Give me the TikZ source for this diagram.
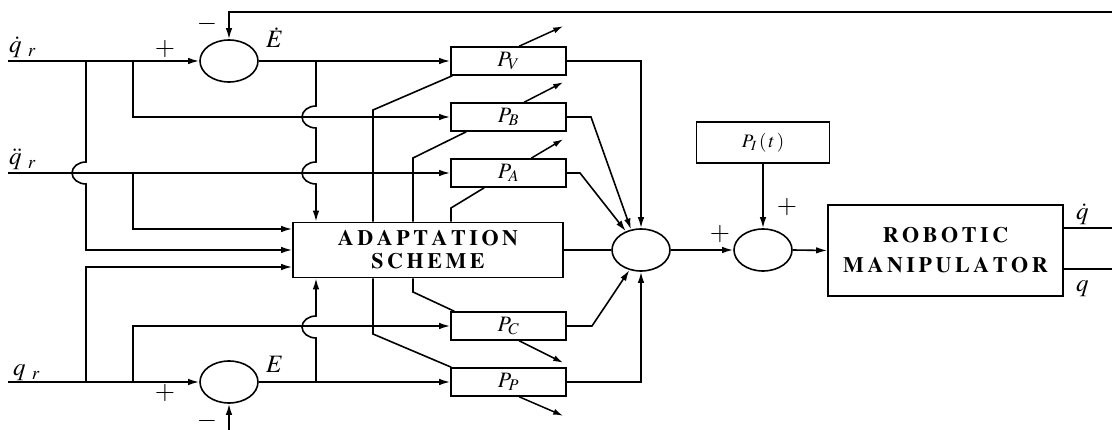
\documentclass[tikz,border=0pt]{standalone}
\usepackage{mathptmx}
\usepackage{fontspec}
\setmainfont{Liberation Serif}
\usetikzlibrary{arrows.meta,shapes.geometric,calc}

% bold Times for the two large blocks, letters spread apart by a fixed kern
\newcommand\blockfont[1]{\fontencoding{OT1}\fontfamily{ptm}\fontseries{b}\fontshape{n}%
  \fontsize{22}{#1}\selectfont}
\makeatletter
\newcommand\spreadword[1]{\@tfor\spch:=#1\do{\spch\kern3.6pt}\unkern}
\makeatother

\begin{document}
\begin{tikzpicture}[x=1pt,y=-1pt,
  wire/.style={line width=1.6pt},
  arr/.style={wire,-{Latex[length=11pt,width=6.5pt]}},
  tunearr/.style={line width=1.5pt,-{Latex[length=10pt,width=6pt]}},
  sumnode/.style={draw,line width=1.6pt,ellipse,minimum width=58pt,minimum height=42pt,inner sep=0pt},
  pbox/.style={draw,line width=1.6pt,minimum width=115pt,minimum height=28pt,inner sep=0pt,
    font=\fontsize{22}{22}\selectfont},
  bigblock/.style={draw,line width=1.6pt,inner sep=0pt,align=center},
  sign/.style={font=\fontsize{26}{26}\selectfont,inner sep=0pt},
  siglabel/.style={font=\fontsize{25}{25}\selectfont,inner sep=0pt,anchor=base west},
]
\useasboundingbox (0,0) rectangle (1112,430);

% summing junctions
\node[sumnode] (s1) at (229,61) {};
\node[sumnode] (s2) at (229,382) {};
\node[sumnode] (s3) at (641,250) {};
\node[sumnode] (s4) at (763,250) {};

% gain blocks
\node[pbox] (pv) at (508.5,61)  {$P_{V}$};
\node[pbox] (pb) at (508.5,117) {$P_{B}$};
\node[pbox] (pa) at (508.5,173) {$P_{A}$};
\node[pbox] (pc) at (508.5,326) {$P_{C}$};
\node[pbox] (pp) at (508.5,382) {$P_{P}$};

\node[draw,line width=1.3pt,minimum width=133pt,minimum height=41pt,inner sep=0pt,
  font=\fontsize{19}{19}\selectfont] (pI) at (763,142.5) {$P_I\,(\,t\,)$};

\node[bigblock,minimum width=270pt,minimum height=55pt,font=\blockfont{23}]
  (adapt) at (428,250) {\spreadword{ADAPTATION}\\\spreadword{SCHEME}};
\node[bigblock,minimum width=235pt,minimum height=91pt,font=\blockfont{30}]
  (robot) at (945.5,250.5) {\spreadword{ROBOTIC}\\\spreadword{MANIPULATOR}};

% signal entry points, branch points and rows
\coordinate (qdIn) at (8,61);
\coordinate (qddIn) at (8,173);
\coordinate (qIn) at (8,382);
\coordinate (fbTop) at (1112,12);
\coordinate (fbBot) at (229,430);
\coordinate (j1) at (86,61);
\coordinate (j2) at (133,61);
\coordinate (j3) at (133,173);
\coordinate (j4) at (86,382);
\coordinate (j5) at (133,382);
\coordinate (j6) at (316,61);
\coordinate (j7) at (316,382);
\coordinate (rA) at (0,229);
\coordinate (rB) at (0,250);
\coordinate (rC) at (0,267);
\coordinate (oU) at (1112,228);
\coordinate (oL) at (1112,269);

% reference inputs
\draw[arr] (qdIn) -- (s1.west);
\draw[arr] (fbTop) -| (s1.north);
\draw[arr] (s1.east) -- (pv.west);
\draw[arr] (j1) -- (86,162) arc[start angle=90,end angle=270,x radius=14pt,y radius=11pt]
  -- (j1 |- rB) -- (adapt.west |- rB);
\draw[arr] (j2) |- (pb.west);
\draw[arr] (qddIn) -- (pa.west);
\draw[arr] (j3) |- (adapt.west |- rA);
\draw[arr] (qIn) -- (s2.west);
\draw[arr] (j4) |- (adapt.west |- rC);
\draw[arr] (j5) |- (pc.west);
\draw[arr] (s2.east) -- (pp.west);
\draw[arr] (fbBot) -- (s2.south);

% error signals into the adaptation scheme
\draw[arr] (j6) -- (316,106) arc[start angle=90,end angle=270,x radius=14pt,y radius=11pt]
  -- (316,162) arc[start angle=90,end angle=270,x radius=14pt,y radius=11pt]
  -- (adapt.north -| j6);
\draw[arr] (j7) -- (316,338) arc[start angle=270,end angle=90,x radius=14pt,y radius=11pt]
  -- (adapt.south -| j7);

% adaptation outputs to the gain blocks
\coordinate (aV) at (373,110);
\coordinate (aB) at (413,158);
\coordinate (aA) at (451,208);
\coordinate (aC) at (413,292);
\coordinate (aP) at (373,334);
\draw[wire] (aV |- adapt.north) -- (aV) -- ($(pv.south west)+(2,0)$);
\draw[wire] (aB |- adapt.north) -- (aB) -- ($(pb.south west)+(16,0)$);
\draw[wire] (aA |- adapt.north) -- (aA) -- ($(pa.south west)+(34,0)$);
\draw[wire] (aC |- adapt.south) -- (aC) -- ($(pc.north west)+(4,0)$);
\draw[wire] (aP |- adapt.south) -- (aP) -- ($(pp.north west)+(1,0)$);

% tuning arrows
\draw[tunearr] ($(pv.north west)+(69,0)$) -- ++(44,-20);
\draw[tunearr] ($(pb.north west)+(74,0)$) -- ++(39,-20);
\draw[tunearr] ($(pa.north west)+(81,0)$) -- ++(32,-19);
\draw[tunearr] ($(pc.south west)+(69,0)$) -- ++(44,22);
\draw[tunearr] ($(pp.south west)+(69,0)$) -- ++(44,19);

% gain block outputs to the summing junction
\draw[arr] (pv.east) -| (s3.north);
\draw[arr] (pb.east) -- (591,117) -- (s3.116);
\draw[arr] (pa.east) -- (580,173) -- (s3.129);
\draw[arr] (pc.east) -- (592,326) -- (s3.240);
\draw[arr] (pp.east) -| (s3.south);
\draw[wire] (adapt.east) -- (s3.west);
\draw[arr] (s3.east) -- (s4.west);
\draw[arr] (pI.south) -- (s4.north);
\draw[arr] (s4.east) -- (robot.west);

% manipulator outputs
\draw[wire] (robot.east |- oU) -- (oU);
\draw[wire] (robot.east |- oL) -- (oL);

% signal labels
\node[siglabel] (lqd) at (9,53) {$\dot q_{\;\,r}$};
\node[siglabel] (lqdd) at (9,165) {$\ddot q_{\;\,r}$};
\node[siglabel] (lq) at (13,376) {$q_{\;\,r}$};
\node[siglabel] (lEd) at (266,48) {$\dot E$};
\node[siglabel] (lE) at (266,373) {$E$};
\node[siglabel] (lqo) at (1076,220) {$\dot q$};
\node[siglabel] (lqo2) at (1076,292) {$q$};

% signs
\node[sign] (p1) at (165,49) {$+$};
\node[sign] (m1) at (207,24) {$-$};
\node[sign] (p2) at (165,393) {$+$};
\node[sign] (m2) at (207,421) {$-$};
\node[sign] (p3) at (720,234) {$+$};
\node[sign] (p4) at (787,207) {$+$};
\end{tikzpicture}
\end{document}
